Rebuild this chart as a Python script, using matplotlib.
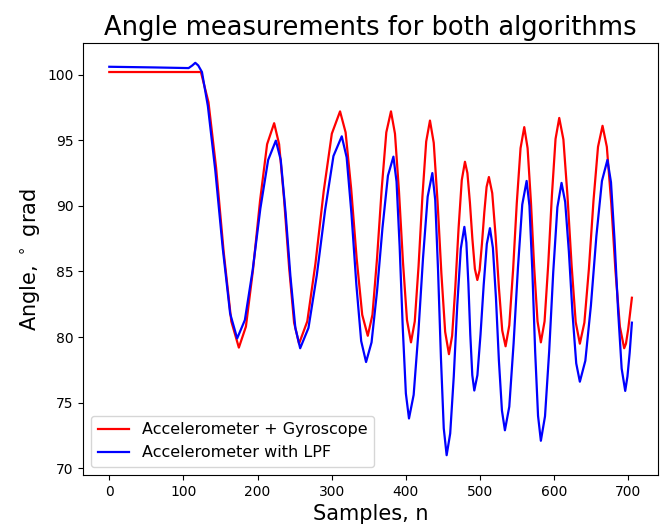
import matplotlib
matplotlib.use("Agg")
import matplotlib.pyplot as plt

# --- data (samples, angle in degrees) ---
acc_gyro_n = [0, 123.6, 133.8, 144.1, 154.3, 164.6, 174.8,
              184.3, 193.8, 203.4, 212.9, 222.4,
              229.1, 235.8, 242.6, 249.3, 256.0,
              267.1, 278.1, 289.2, 300.2, 311.3,
              318.8, 326.3, 333.7, 341.2, 348.7,
              355.0, 361.2, 367.5, 373.7, 380.0,
              385.4, 390.8, 396.2, 401.6, 407.0,
              412.1, 417.2, 422.4, 427.5, 432.6,
              437.7, 442.8, 448.0, 453.1, 458.2,
              462.5, 466.8, 471.2, 475.5, 479.8,
              483.1, 486.5, 489.8, 493.2, 496.5,
              499.6, 502.7, 505.9, 509.0, 512.1,
              516.6, 521.1, 525.6, 530.1, 534.6,
              539.6, 544.7, 549.7, 554.8, 559.8,
              564.3, 568.8, 573.2, 577.7, 582.2,
              587.2, 592.1, 597.1, 602.0, 607.0,
              612.6, 618.1, 623.7, 629.2, 634.8,
              640.9, 647.0, 653.2, 659.3, 665.4,
              671.2, 677.1, 682.9, 688.8, 694.6,
              697.0, 700.0, 705.0]
acc_gyro = [100.2, 100.2, 97.9, 92.9, 86.5, 81.2, 79.2,
            80.8, 85.1, 90.4, 94.7, 96.3,
            94.7, 90.5, 85.3, 81.1, 79.5,
            81.2, 85.6, 91.1, 95.5, 97.2,
            95.6, 91.3, 86.0, 81.7, 80.1,
            81.7, 86.0, 91.3, 95.6, 97.2,
            95.5, 91.1, 85.7, 81.3, 79.6,
            81.2, 85.4, 90.7, 94.9, 96.5,
            94.8, 90.35, 84.85, 80.4, 78.7,
            80.1, 83.8, 88.3, 91.96, 93.36,
            92.5, 90.25, 87.5, 85.2, 84.35,
            85.1, 87.1, 89.5, 91.45, 92.2,
            90.97, 87.74, 83.76, 80.5, 79.3,
            80.9, 85.1, 90.2, 94.4, 96.0,
            94.4, 90.3, 85.3, 81.2, 79.6,
            81.2, 85.5, 90.8, 95.1, 96.7,
            95.06, 90.76, 85.44, 81.14, 79.5,
            81.1, 85.2, 90.4, 94.5, 96.1,
            94.5, 90.25, 85.0, 80.8, 79.15,
            79.5, 80.6, 83.0]

lpf_n = [0, 60, 107, 112, 116, 120, 125,
         133, 143, 153, 163, 172.5,
         182.9, 193.4, 203.8, 214.3, 224.7,
         231.3, 237.8, 244.4, 251.0, 257.5,
         268.7, 279.9, 291.2, 302.4, 313.6,
         320.2, 326.7, 333.3, 339.8, 346.4,
         353.8, 361.2, 368.5, 375.9, 383.3,
         387.5, 391.7, 395.9, 400.1, 404.3,
         410.6, 416.9, 423.2, 429.5, 435.8,
         439.7, 443.5, 447.4, 451.2, 455.1,
         459.9, 464.7, 469.4, 474.2, 479.0,
         481.7, 484.4, 487.0, 489.7, 492.4,
         496.6, 500.8, 505.1, 509.3, 513.5,
         517.5, 521.6, 525.6, 529.7, 533.7,
         539.6, 545.4, 551.3, 557.1, 563.0,
         566.8, 570.7, 574.5, 578.4, 582.2,
         587.8, 593.4, 598.9, 604.5, 610.1,
         615.0, 620.0, 624.9, 629.9, 634.8,
         642.2, 649.7, 657.1, 664.6, 672.0,
         676.8, 681.6, 686.4, 691.2, 696.0,
         699.0, 702.0, 705.0]
lpf = [100.6, 100.55, 100.5, 100.7, 100.9, 100.7, 100.2,
       97.6, 92.7, 86.8, 81.8, 79.9,
       81.3, 85.1, 89.8, 93.5, 94.97,
       93.5, 89.5, 84.6, 80.7, 79.15,
       80.7, 84.7, 89.7, 93.8, 95.3,
       93.7, 89.4, 84.0, 79.7, 78.1,
       79.6, 83.5, 88.3, 92.3, 93.75,
       91.85, 86.9, 80.7, 75.7, 73.8,
       75.6, 80.3, 86.0, 90.7, 92.5,
       90.45, 85.1, 78.4, 73.05, 71.0,
       72.66, 77.0, 82.4, 86.74, 88.4,
       87.2, 84.1, 80.2, 77.1, 75.93,
       77.1, 80.2, 84.0, 87.1, 88.3,
       86.8, 83.0, 78.2, 74.4, 72.9,
       74.7, 79.5, 85.3, 90.1, 91.9,
       90.0, 85.06, 78.9, 74.0, 72.1,
       73.97, 78.9, 84.96, 89.9, 91.75,
       90.3, 86.5, 81.8, 78.0, 76.6,
       78.2, 82.4, 87.7, 91.9, 93.5,
       91.8, 87.4, 82.0, 77.6, 75.9,
       77.0, 78.8, 81.1]

fig, ax = plt.subplots(figsize=(6.6, 5.27), dpi=100)
ax.plot(acc_gyro_n, acc_gyro, color="red", lw=1.6, label="Accelerometer + Gyroscope")
ax.plot(lpf_n, lpf, color="blue", lw=1.6, label="Accelerometer with LPF")

ax.set_title("Angle measurements for both algorithms", fontsize=18.5)
ax.set_xlabel("Samples, n", fontsize=15)
ax.set_ylabel(r"Angle, $^\circ$ grad", fontsize=15)
ax.set_xticks([0, 100, 200, 300, 400, 500, 600, 700])
ax.set_yticks([70, 75, 80, 85, 90, 95, 100])
ax.legend(loc="lower left", fontsize=11.5)

fig.subplots_adjust(left=0.126, right=0.997, top=0.918, bottom=0.099)
fig.savefig("out.png", dpi=100)
